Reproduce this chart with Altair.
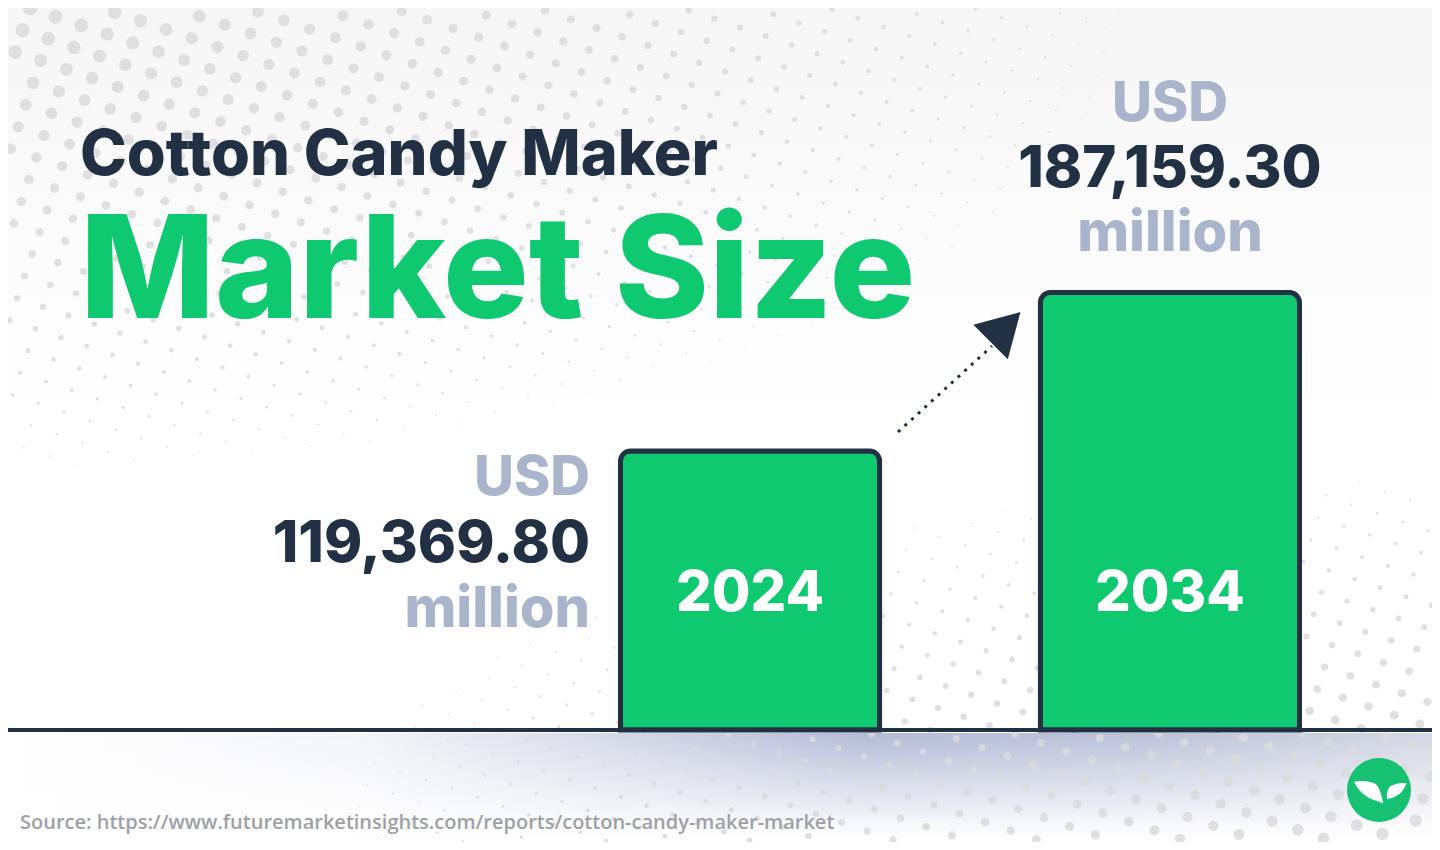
import math
import altair as alt
import pandas as pd

# ---- chart values
YEARS = ["2024", "2034"]
VALUES = [119369.80, 187159.30]
VALUE_TEXT = ["119,369.80", "187,159.30"]
UNIT_TOP = ["USD", "USD"]
UNIT_BOTTOM = ["million", "million"]
TITLE_TOP = "Cotton Candy Maker"
TITLE_MAIN = "Market Size"
SOURCE = "Source: https://www.futuremarketinsights.com/reports/cotton-candy-maker-market"

DARK = "#213143"
GREEN = "#0fc971"
MUTED = "#aab5cc"
FONT = "Inter"
OFF = 8  # page margin
RIGHT = 1432
BOTTOM = 842


def px(v):
    return alt.value(v - OFF)


bars = pd.DataFrame({"year": YEARS, "value": VALUES, "text": VALUE_TEXT, "top": UNIT_TOP, "bottom": UNIT_BOTTOM})
b24 = bars[bars.year == "2024"]
b34 = bars[bars.year == "2034"]
one = pd.DataFrame({"a": [0]})

X = alt.X("year:N", axis=None, scale=alt.Scale(type="band", domain=YEARS, range=[612.5, 1291.5], paddingInner=0.383, paddingOuter=0))
Y = alt.Y("value:Q", axis=None, scale=alt.Scale(domain=[0, 308900], range=[722, 0]))


# ---- decoration: background washes and the halftone texture (not chart data)
def wash(y1, y2, stops, horizontal=False, x1=OFF, x2=RIGHT):
    grad = alt.LinearGradient(
        gradient="linear",
        stops=[alt.GradientStop(color=c, offset=o) for o, c in stops],
        x1=0, x2=1 if horizontal else 0, y1=0, y2=0 if horizontal else 1,
    )
    return alt.Chart(one).mark_rect(color=grad).encode(x=px(x1), x2=px(x2), y=px(y1), y2=px(y2))


top_wash = wash(OFF, 420, [(0, "#f6f6f7"), (1, "#ffffff")])
band_h = wash(733, BOTTOM, [(0, "#ffffff"), (0.25, "#f4f5f8"), (0.6, "#b4bcd6"), (0.8, "#bcc3d9"), (1, "#d3d7e3")], horizontal=True)
band_v = wash(733, BOTTOM, [(0, "rgba(255,255,255,0)"), (0.85, "rgba(255,255,255,0.9)"), (1, "#ffffff")])

dots = []
for i in range(-40, 70):
    for j in range(-40, 60):
        x = 30 + i * 25.7 - j * 7.5
        y = 8 + i * 8.7 + j * 22
        if not (OFF <= x <= RIGHT and OFF <= y <= BOTTOM):
            continue
        d1 = 1 - math.hypot(x / 1250, y / 520)
        d2 = 1 - math.hypot((1440 - x) / 1250, (850 - y) / 420)
        d = max(15 * d1, 13 * d2)
        if d > 1.5:
            dots.append({"x": x - OFF, "y": y - OFF, "s": d * d})
dots_layer = alt.Chart(pd.DataFrame(dots)).mark_point(filled=True, shape="circle", color="#dadadd", opacity=0.85, strokeWidth=0).encode(
    x=alt.X("x:Q", scale=None, axis=None), y=alt.Y("y:Q", scale=None, axis=None), size=alt.Size("s:Q", scale=None, legend=None)
)


# ---- titles
def label(text, x, y, size, color, weight=800, align="left", font=FONT):
    return alt.Chart(pd.DataFrame({"t": [text]})).mark_text(
        font=font, fontSize=size, fontWeight=weight, color=color, align=align, baseline="alphabetic"
    ).encode(text="t:N", x=px(x), y=px(y))


title1 = label(TITLE_TOP, 80, 175, 63, DARK)
title2 = label(TITLE_MAIN, 80, 318, 143, GREEN)
source = label(SOURCE, 20, 829, 20, "#9da1a7", weight=600, font="Open Sans")

# ---- bars
bar_layer = alt.Chart(bars).mark_bar(
    color=GREEN, stroke=DARK, strokeWidth=5, cornerRadiusTopLeft=10, cornerRadiusTopRight=10
).encode(x=X, y=Y)


def value_lines(df, field, dy, color, align, dx, size):
    return alt.Chart(df).mark_text(
        font=FONT, fontSize=size, fontWeight=800, color=color, align=align, baseline="alphabetic", dy=dy, dx=dx
    ).encode(x=X, y=Y, text=f"{field}:N")


labels = [
    value_lines(b24, "top", 44, MUTED, "right", -160, 55),
    value_lines(b24, "text", 111, DARK, "right", -160, 58),
    value_lines(b24, "bottom", 176, MUTED, "right", -160, 56),
    value_lines(b34, "top", -172, MUTED, "center", 0, 55),
    value_lines(b34, "text", -106, DARK, "center", 0, 58),
    value_lines(b34, "bottom", -42, MUTED, "center", 0, 56),
]
year_labels = alt.Chart(bars).mark_text(
    font=FONT, fontSize=56, fontWeight=800, color="white", align="center", baseline="alphabetic"
).encode(x=X, y=px(611), text="year:N")

baseline = alt.Chart(one).mark_rule(color=DARK, strokeWidth=4).encode(x=px(OFF), x2=px(RIGHT), y=px(730))

# ---- growth arrow
arrow_line = alt.Chart(one).mark_rule(color=DARK, strokeWidth=3, strokeDash=[3, 6]).encode(
    x=px(898), x2=px(992), y=px(432), y2=px(346)
)
arrow_head = alt.Chart(one).mark_point(shape="triangle-up", filled=True, color=DARK, opacity=1, size=2381, angle=45, strokeWidth=0).encode(
    x=px(1005.5), y=px(327)
)

# ---- logo
logo_disc = alt.Chart(one).mark_point(shape="circle", filled=True, color="#16c172", opacity=1, size=4096, strokeWidth=0).encode(
    x=px(1379), y=px(790)
)
LEAF_L = "M -0.78 -0.26 C -0.45 -0.32 -0.1 -0.25 -0.03 -0.1 C 0.05 0.05 0.1 0.25 0.13 0.42 C -0.1 0.3 -0.5 0.3 -0.78 -0.26 Z"
LEAF_R = "M 0.86 -0.22 C 0.6 -0.22 0.38 -0.18 0.3 -0.05 C 0.24 0.06 0.24 0.18 0.25 0.29 C 0.42 0.24 0.72 0.2 0.86 -0.22 Z"
leaves = [
    alt.Chart(one).mark_point(shape=s, filled=True, color="white", opacity=1, size=4096, strokeWidth=0).encode(x=px(1379), y=px(790))
    for s in (LEAF_L, LEAF_R)
]

chart = alt.layer(
    top_wash, band_h, band_v, dots_layer,
    title1, title2, source,
    arrow_line, arrow_head,
    bar_layer, *labels, year_labels, baseline,
    logo_disc, *leaves,
).resolve_scale(x="independent", y="independent", size="independent").properties(
    width=RIGHT - OFF, height=BOTTOM - OFF, padding=0, background="#ffffff",
    autosize=alt.AutoSizeParams(type="none"),
).configure_view(stroke=None)

chart.save("out.html", embed_options={"renderer": "svg", "actions": False})
